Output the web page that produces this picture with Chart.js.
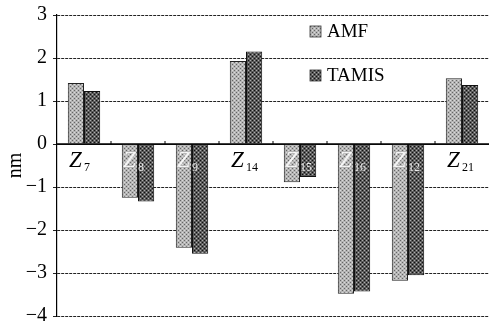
<!DOCTYPE html>
<html>
<head>
<meta charset="UTF-8">
<script src="https://cdn.jsdelivr.net/npm/chart.js"></script>
<style>
  html, body { margin: 0; padding: 0; background: #fff; }
  #wrap { width: 489px; height: 324px; }
</style>
</head>
<body>
<div id="wrap"><canvas id="chart"></canvas></div>
<script>
// Zernike term indices shown under each bar pair
const categories = ['7', '8', '9', '14', '15', '16', '12', '21'];
const amfValues = [1.42, -1.25, -2.41, 1.93, -0.89, -3.48, -3.18, 1.53];
const tamisValues = [1.23, -1.34, -2.55, 2.15, -0.77, -3.43, -3.05, 1.37];
const seriesNames = ['AMF', 'TAMIS'];
const yMin = -4, yMax = 3;

const SERIF = '"Liberation Serif", "DejaVu Serif", serif';

// stippled fill like the printed figure
function stipple(base, dot) {
    const c = document.createElement('canvas');
    c.width = 4; c.height = 4;
    const g = c.getContext('2d');
    g.fillStyle = base;
    g.fillRect(0, 0, 4, 4);
    g.fillStyle = dot;
    g.fillRect(0, 0, 1, 1);
    g.fillRect(2, 2, 1, 1);
    g.fillStyle = '#fff';
    g.globalAlpha = 0.5;
    g.fillRect(2, 0, 1, 1);
    g.fillRect(0, 2, 1, 1);
    return g.createPattern(c, 'repeat');
}
const amfFill = stipple('#b4b4b4', '#666');
const tamisFill = stipple('#5a5a5a', '#111');

const overlay = {
    id: 'overlay',
    afterDatasetsDraw(chart) {
        const ctx = chart.ctx;
        const x = chart.scales.x, y = chart.scales.y;
        const y0 = y.getPixelForValue(0);
        const area = chart.chartArea;
        ctx.save();
        // zero line
        ctx.strokeStyle = '#000';
        ctx.lineWidth = 1.5;
        ctx.beginPath();
        ctx.moveTo(area.left, y0);
        ctx.lineTo(area.right, y0);
        ctx.stroke();
        // small ticks between groups
        ctx.lineWidth = 1;
        for (let i = 0; i < categories.length - 1; i++) {
            const bx = (x.getPixelForValue(i) + x.getPixelForValue(i + 1)) / 2;
            ctx.beginPath();
            ctx.moveTo(bx, y0);
            ctx.lineTo(bx, y0 - 3);
            ctx.stroke();
        }
        // Z labels
        categories.forEach((c, i) => {
            const cx = x.getPixelForValue(i);
            const neg = amfValues[i] < 0;
            ctx.fillStyle = neg ? 'rgba(255,255,255,0.85)' : '#000';
            ctx.font = 'italic 23px ' + SERIF;
            ctx.textAlign = 'left';
            ctx.textBaseline = 'alphabetic';
            ctx.fillText('Z', cx - 15, y0 + 23);
            ctx.font = '12px ' + SERIF;
            ctx.fillText(c, cx, y0 + 27);
        });
        // legend
        const fills = [amfFill, tamisFill];
        seriesNames.forEach((name, i) => {
            const lx = 310, ly = 26 + i * 44;
            ctx.fillStyle = fills[i];
            ctx.fillRect(lx, ly, 11, 11);
            ctx.strokeStyle = '#333';
            ctx.lineWidth = 0.8;
            ctx.strokeRect(lx, ly, 11, 11);
            ctx.fillStyle = '#000';
            ctx.font = '19px ' + SERIF;
            ctx.textBaseline = 'middle';
            ctx.fillText(name, lx + 17, ly + 6);
        });
        ctx.restore();
    }
};

new Chart(document.getElementById('chart'), {
    type: 'bar',
    data: {
        labels: categories.map(c => 'Z' + c),
        datasets: [{
            label: seriesNames[0],
            data: amfValues,
            backgroundColor: amfFill,
            borderColor: '#222',
            borderWidth: 1,
            categoryPercentage: 0.6,
            barPercentage: 1.0
        }, {
            label: seriesNames[1],
            data: tamisValues,
            backgroundColor: tamisFill,
            borderColor: '#111',
            borderWidth: 1,
            categoryPercentage: 0.6,
            barPercentage: 1.0
        }]
    },
    options: {
        animation: false,
        responsive: true,
        maintainAspectRatio: false,
        layout: { padding: { top: 15, right: 0, bottom: 8, left: 0 } },
        scales: {
            x: { display: false, offset: true },
            y: {
                min: yMin,
                max: yMax,
                afterFit(scale) {
                    scale.width = 57;
                    scale.paddingTop = 0;
                    scale.paddingBottom = 0;
                },
                ticks: {
                    stepSize: 1,
                    color: '#000',
                    padding: 6,
                    font: { family: SERIF, size: 20 },
                    callback: v => v < 0 ? '\u2212' + Math.abs(v) : String(v)
                },
                title: {
                    display: true,
                    text: 'nm',
                    color: '#000',
                    padding: { top: 4, bottom: 0 },
                    font: { family: SERIF, size: 20 }
                },
                grid: {
                    color: '#222',
                    lineWidth: 1,
                    tickLength: 4
                },
                border: {
                    display: true,
                    color: '#000',
                    width: 1.2,
                    dash: ctx => (ctx.tick && ctx.tick.value !== 0) ? [3, 1] : []
                }
            }
        },
        plugins: {
            legend: { display: false },
            tooltip: { enabled: false }
        }
    },
    plugins: [overlay]
});
</script>
</body>
</html>
